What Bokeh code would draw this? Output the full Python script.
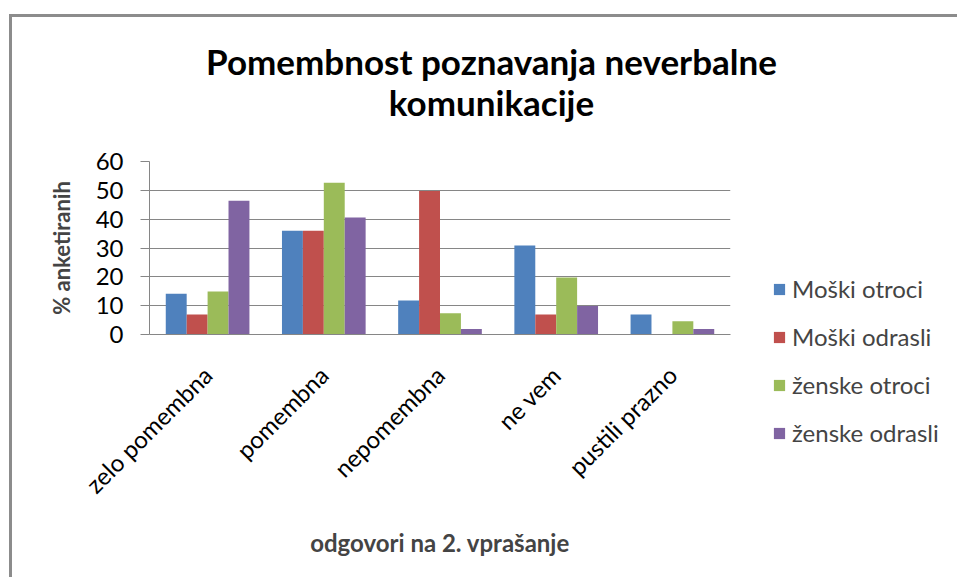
from bokeh.plotting import figure
from bokeh.layouts import column, row
from bokeh.models import (Range1d, FactorRange, Legend, LegendItem, Label,
                          ColumnDataSource, FixedTicker)
from bokeh.transform import dodge
from bokeh.embed import file_html
from bokeh.resources import INLINE

categories = ["zelo pomembna", "pomembna", "nepomembna", "ne vem", "pustili prazno"]
series_names = ["Moški otroci", "Moški odrasli", "ženske otroci", "ženske odrasli"]
moski_otroci = [14.1, 36.0, 11.8, 30.9, 6.9]
moski_odrasli = [6.9, 36.0, 49.8, 6.9, 0.0]
zenske_otroci = [14.9, 52.6, 7.4, 19.8, 4.6]
zenske_odrasli = [46.4, 40.6, 1.9, 9.9, 1.9]
y_ticks = [0, 10, 20, 30, 40, 50, 60]
title_lines = ["Pomembnost poznavanja neverbalne", "komunikacije"]
x_title = "odgovori na 2. vprašanje"
y_title = "% anketiranih"
colors = ["#4F81BD", "#C0504D", "#9BBB59", "#8064A2"]

FONT = "Lato"
GRID = "#868686"
OX, OY = 12, 17          # page offset of the drawing (room for the outer chart frame)
TOTAL_W, TOTAL_H = 960 - OX, 563
TITLE_H = 130
MAIN_W = 748
BODY_H = TOTAL_H - TITLE_H

# ---------------- title strip ----------------
pt = figure(width=TOTAL_W, height=TITLE_H, x_range=Range1d(0, 1), y_range=Range1d(0, 1),
            x_axis_location=None, y_axis_location=None, min_border=0,
            output_backend="svg", toolbar_location=None, tools="")
pt.frame_align = False
pt.outline_line_color = None
pt.grid.grid_line_color = None
for txt, yy in zip(title_lines, [87, 46]):
    pt.add_layout(Label(x=479, y=yy, x_units="screen", y_units="screen", text=txt,
                        text_align="center", text_baseline="middle",
                        text_font=FONT, text_font_style="bold", text_font_size="35px",
                        text_color="black"))

# ---------------- main chart ----------------
src = ColumnDataSource(dict(cat=categories, s0=moski_otroci, s1=moski_odrasli,
                            s2=zenske_otroci, s3=zenske_odrasli))

p = figure(x_range=FactorRange(*categories, range_padding=0), y_range=Range1d(0, 60),
           width=MAIN_W, height=BODY_H, min_border_left=137, min_border_right=30,
           min_border_top=14, min_border_bottom=BODY_H - 14 - 173,
           output_backend="svg", toolbar_location=None, tools="")
p.outline_line_color = None

bw = 0.18
offsets = [-1.5 * bw, -0.5 * bw, 0.5 * bw, 1.5 * bw]
for i, col in enumerate(colors):
    p.vbar(x=dodge("cat", offsets[i], range=p.x_range), top="s%d" % i, width=bw,
           source=src, fill_color=col, line_color=None)

p.xgrid.grid_line_color = None
p.ygrid.grid_line_color = GRID
p.ygrid.grid_line_width = 1
p.yaxis.ticker = FixedTicker(ticks=y_ticks)
p.yaxis.axis_line_color = GRID
p.yaxis.major_tick_line_color = GRID
p.yaxis.major_tick_out = 9
p.yaxis.major_tick_in = 0
p.yaxis.minor_tick_line_color = None
p.yaxis.major_label_standoff = 17
p.yaxis.major_label_text_font = FONT
p.yaxis.major_label_text_font_size = "24px"
p.yaxis.major_label_text_color = "black"
p.yaxis.axis_label = y_title
p.yaxis.axis_label_text_font = FONT
p.yaxis.axis_label_text_font_style = "bold"
p.yaxis.axis_label_text_font_size = "22px"
p.yaxis.axis_label_standoff = 18

p.xaxis.axis_line_color = GRID
p.xaxis.major_tick_line_color = None
p.xaxis.major_tick_out = 0
p.xaxis.major_label_orientation = 0.785398
p.xaxis.major_label_standoff = 36
p.xaxis.major_label_text_font = FONT
p.xaxis.major_label_text_font_size = "24px"
p.xaxis.major_label_text_color = "black"
p.xaxis.axis_label = x_title
p.xaxis.axis_label_text_font = FONT
p.xaxis.axis_label_text_font_style = "bold"
p.xaxis.axis_label_text_font_size = "24px"
p.xaxis.axis_label_standoff = 16

# ---------------- legend strip ----------------
pl = figure(width=TOTAL_W - MAIN_W, height=BODY_H, x_range=Range1d(0, 1), y_range=Range1d(0, 1),
            x_axis_location=None, y_axis_location=None, min_border=0,
            output_backend="svg", toolbar_location=None, tools="")
pl.frame_align = False
pl.outline_line_color = None
pl.grid.grid_line_color = None
items = []
for i, (name, col) in enumerate(zip(series_names, colors)):
    # hidden proxy renderer of the same series (only its legend swatch is shown)
    proxy = pl.vbar(x="s%d" % i, top="s%d" % i, width=0.5, source=src,
                    fill_color=col, line_color=None, visible=False)
    items.append(LegendItem(label=name, renderers=[proxy]))
legend = Legend(items=items, location=(12, 133), orientation="vertical",
                glyph_width=14, glyph_height=14, label_standoff=6,
                label_height=29, spacing=19, padding=0, margin=0,
                border_line_color=None, background_fill_alpha=0,
                inactive_fill_alpha=0,
                label_text_font=FONT, label_text_font_size="24px")
pl.add_layout(legend)

layout = column(pt, row(p, pl))
layout.styles = {"margin-left": "%dpx" % OX, "margin-top": "%dpx" % OY,
                 "box-shadow": "-3px -3px 0px 0px #8c8c8c"}

open("out.html", "w").write(file_html(layout, INLINE))
